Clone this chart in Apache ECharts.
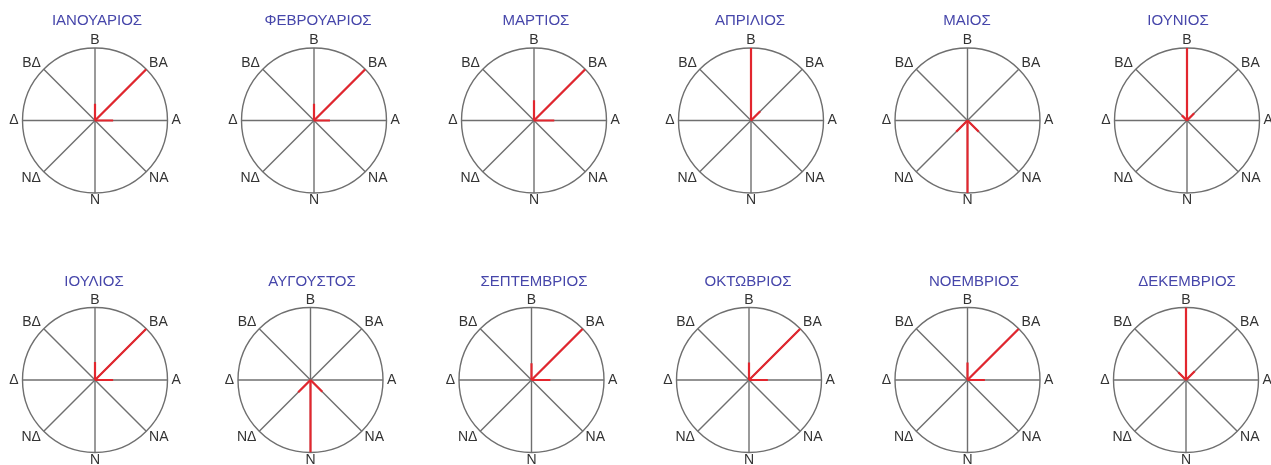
<!DOCTYPE html>
<html><head><meta charset="utf-8">
<script src="https://cdn.jsdelivr.net/npm/echarts@6/dist/echarts.min.js"></script>
<style>html,body{margin:0;padding:0;background:#fff}#c{width:1271px;height:465px}</style>
</head><body><div id="c"></div>
<script>
const months = ['ΙΑΝΟΥΑΡΙΟΣ','ΦΕΒΡΟΥΑΡΙΟΣ','ΜΑΡΤΙΟΣ','ΑΠΡΙΛΙΟΣ','ΜΑΙΟΣ','ΙΟΥΝΙΟΣ','ΙΟΥΛΙΟΣ','ΑΥΓΟΥΣΤΟΣ','ΣΕΠΤΕΜΒΡΙΟΣ','ΟΚΤΩΒΡΙΟΣ','ΝΟΕΜΒΡΙΟΣ','ΔΕΚΕΜΒΡΙΟΣ'];
const directions = ['Β','ΒΑ','Α','ΝΑ','Ν','ΝΔ','Δ','ΒΔ'];
// relative wind frequency per direction (max = 100), order as directions
const jan = [23,100,25,0,0,0,0,0];
const feb = [23,100,22,0,0,0,0,0];
const mar = [28,100,28,0,0,0,0,0];
const apr = [100,18,0,0,0,0,0,0];
const may = [0,0,0,22,100,22,0,0];
const jun = [100,14,0,0,0,0,0,10];
const jul = [25,100,25,0,0,0,0,0];
const aug = [0,0,0,23,100,24,0,0];
const sep = [23,100,26,0,0,0,0,0];
const oct = [24,100,26,0,0,0,0,0];
const nov = [24,100,24,0,0,0,0,0];
const dec = [100,17,0,0,0,0,0,15];
const monthValues = [jan,feb,mar,apr,may,jun,jul,aug,sep,oct,nov,dec];
const axisMax = 100;

// layout
const centers = [[95,120.5],[314,120.5],[534,120.5],[751,120.5],[967.5,120.5],[1187,120.5],
                 [95,380],[310.5,380],[531.5,380],[749,380],[967.5,380],[1186,380]];
const titlePos = [[97,13],[318,13],[536,13],[750,13],[967,13],[1178,13],
                  [94,274],[312,274],[534,274],[748,274],[974,274],[1187,274]];
const R = 72.5;
const gray = '#6f6f6f';
const red = '#e2262e';
const font = 'Liberation Sans, Arial, sans-serif';

const polar = [], angleAxis = [], radiusAxis = [], series = [], title = [];
months.forEach((m, i) => {
  polar.push({center: centers[i], radius: R});
  angleAxis.push({
    polarIndex: i, type: 'category', data: directions, boundaryGap: true,
    startAngle: 90 + 180 / directions.length, clockwise: true,
    axisLine: {show: true, lineStyle: {color: gray, width: 1.4}},
    axisTick: {show: false},
    splitLine: {show: false},
    axisLabel: {show: true, interval: 0, margin: 4, lineHeight: 7, color: '#333', fontSize: 14, fontFamily: font}
  });
  radiusAxis.push({
    polarIndex: i, type: 'value', min: 0, max: axisMax,
    axisLine: {show: false}, axisTick: {show: false}, axisLabel: {show: false}, splitLine: {show: false}
  });
  title.push({
    text: m, left: titlePos[i][0], top: titlePos[i][1], textAlign: 'center', padding: 0,
    textStyle: {color: '#4646aa', fontSize: 15, fontWeight: 'normal', fontFamily: font}
  });
  // grey compass spokes
  directions.forEach(d => {
    series.push({
      type: 'line', coordinateSystem: 'polar', polarIndex: i, clip: false,
      data: [[0, d], [axisMax, d]], symbol: 'none', silent: true, z: 2,
      lineStyle: {color: gray, width: 1.4}
    });
  });
  // red wind spokes
  monthValues[i].forEach((v, d) => {
    if (v > 0) {
      series.push({
        type: 'line', coordinateSystem: 'polar', polarIndex: i, clip: false,
        data: [[0, directions[d]], [v, directions[d]]],
        symbol: 'none', silent: true, z: 5,
        lineStyle: {color: red, width: 2.2}
      });
    }
  });
});

const chart = echarts.init(document.getElementById('c'), null, {renderer: 'canvas'});
chart.setOption({backgroundColor: '#fff', animation: false, title, polar, angleAxis, radiusAxis, series});
</script>
</body></html>
